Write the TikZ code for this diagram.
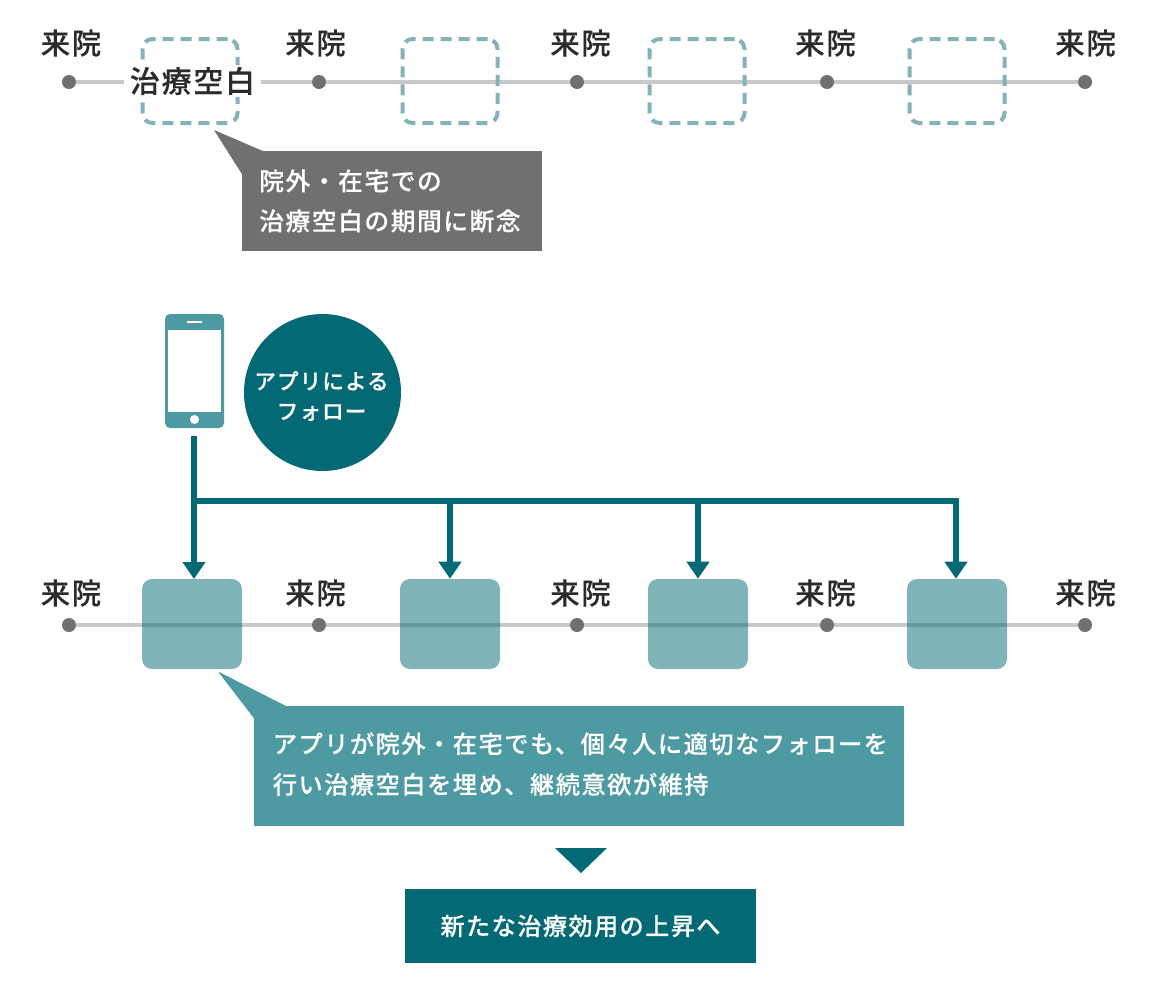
\documentclass[tikz,border=0pt]{standalone}
\usepackage{fontspec}
\setmainfont{Noto Sans CJK JP Medium}[LetterSpace=6,FakeBold=0.15]
\newfontfamily\heavyfont{Noto Sans CJK JP Medium}[LetterSpace=5,FakeBold=0.45]
\usetikzlibrary{arrows.meta}
\usetikzlibrary{positioning}
\newcommand{\TikZscale}{0.75}
\newcommand{\px}{*\TikZscale pt}
\definecolor{appteal}{HTML}{036974}
\definecolor{midteal}{HTML}{4E9AA3}
\definecolor{paleteal}{HTML}{84B2B9}
\definecolor{calloutgrey}{HTML}{707070}
\definecolor{trackgrey}{HTML}{C8C8C8}
\definecolor{inktext}{HTML}{2B2B2B}
\tikzset{every picture/.style={>={Triangle[width=22\px,length=17\px]}}}
\tikzstyle{track}	= [draw=trackgrey, line width=4.5\px]
\tikzstyle{visitdot}	= [circle, fill=calloutgrey, inner sep=0pt, minimum size=14\px]
\tikzstyle{visit}	= [text=inktext, inner sep=0pt, font=\fontsize{22}{26}\selectfont]
\tikzstyle{gapbox}	= [draw=paleteal, line width=4\px, dash pattern=on 11\px off 7\px, rounded corners=10\px, minimum width=95\px, minimum height=84\px, inner sep=0pt]
\tikzstyle{appbox}	= [fill=appteal, fill opacity=0.5, rounded corners=10\px, minimum width=100\px, minimum height=90\px, inner sep=0pt]
\tikzstyle{callout}	= [inner sep=0pt]
\tikzstyle{callouttext}	= [text=white, align=left, inner sep=0pt, anchor=west]
\tikzstyle{feed}	= [draw=appteal, line width=6.5\px]

\begin{document}
\begin{tikzpicture}
	\useasboundingbox (0,0) rectangle (1154\px,-982\px);

	% Besuche
	\foreach \row/\ypos/\ylabel in {top/82/43, low/625/593} {
		\foreach \name/\xpos/\xlabel in {a/69/71, b/319/315.5, c/577/580.5, d/827/825.5, e/1085/1085.5} {
			\node[visitdot] (\row\name) at (\xpos\px,-\ypos\px) {};
			\node[visit] (\row\name label) at (\xlabel\px,-\ylabel\px) {来院};
		}
		\foreach \from/\to in {a/b, b/c, c/d, d/e}
			\draw[track] (\row\from) -- (\row\to);
	}

	% Oben: Luecken
	\node[gapbox] (gapa) at (190\px,-81\px) {};
	\node[gapbox] (gapb) at (450\px,-81\px) {};
	\node[gapbox] (gapc) at (697\px,-81\px) {};
	\node[gapbox] (gapd) at (957\px,-81\px) {};
	\node[fill=white, inner xsep=6\px, inner ysep=2\px, text=inktext, font=\fontsize{22.5}{26}\selectfont] (gaplabel) at (192.5\px,-81\px) {治療空白};

	% Oben: Sprechblase
	\node[callout, fill=calloutgrey, minimum width=300\px, minimum height=100\px] (lapse) at (392\px,-201\px) {};
	\fill[calloutgrey] (214\px,-130\px) -- (264\px,-151.5\px) -- (242.5\px,-175\px) -- cycle;
	\node[callouttext, font=\fontsize{18.6}{30}\selectfont] (lapsetext) at (259\px,-201\px) {院外・在宅での\\治療空白の期間に断念};

	% Telefon
	\node[fill=midteal, rounded corners=5\px, minimum width=59\px, minimum height=114\px, inner sep=0pt] (phone) at (194.5\px,-371\px) {};
	\node[fill=white, minimum width=53\px, minimum height=82\px, inner sep=0pt] (screen) at (194.5\px,-371\px) {};
	\node[fill=white, minimum width=15\px, minimum height=2\px, inner sep=0pt] (speaker) at (194.5\px,-322\px) {};
	\node[fill=white, circle, minimum size=9\px, inner sep=0pt] (homekey) at (194.5\px,-419.5\px) {};
	\node[circle, fill=appteal, minimum size=157\px, inner sep=0pt] (follow) at (322.5\px,-392.5\px) {};
	\node[text=white, align=center, inner sep=0pt, font=\fontsize{16.2}{22.5}\heavyfont] (followtext) at (321.5\px,-396\px) {アプリによる\\フォロー};

	% Untere Boxen
	\node[appbox] (boxa) at (192\px,-624\px) {};
	\node[appbox] (boxb) at (450\px,-624\px) {};
	\node[appbox] (boxc) at (698\px,-624\px) {};
	\node[appbox] (boxd) at (957\px,-624\px) {};

	% Pfeile
	\coordinate (busstart) at (194\px,-501\px);
	\coordinate (busend) at (956\px,-501\px);
	\draw[feed, ->] (194\px,-436\px) -- (194\px,-579\px);
	\draw[feed] (busstart) -- (busend);
	\draw[feed, ->] (busstart -| boxb) -- (boxb.north);
	\draw[feed, ->] (busstart -| boxc) -- (boxc.north);
	\draw[feed, ->] (busend) ++(0,3\px) -- (busend |- boxd.north);

	% Unten: Sprechblase
	\node[callout, fill=midteal, minimum width=650\px, minimum height=120\px] (effect) at (579\px,-766\px) {};
	\fill[midteal] (218\px,-671.5\px) -- (287\px,-706.5\px) -- (254.5\px,-719\px) -- cycle;
	\node[callouttext, font=\fontsize{18.2}{30.5}\selectfont] (effecttext) at (272.5\px,-764\px) {アプリが院外・在宅でも、個々人に適切なフォローを\\行い治療空白を埋め、継続意欲が維持};

	% Ergebnis
	\node[fill=appteal, text=white, minimum width=351\px, minimum height=74\px, inner sep=0pt, font=\fontsize{18.1}{24}\selectfont] (result) at (580.5\px,-926\px) {新たな治療効用の上昇へ};
	\fill[appteal] (555\px,-848\px) -- (607\px,-848\px) -- (581\px,-873\px) -- cycle;
\end{tikzpicture}
\end{document}
